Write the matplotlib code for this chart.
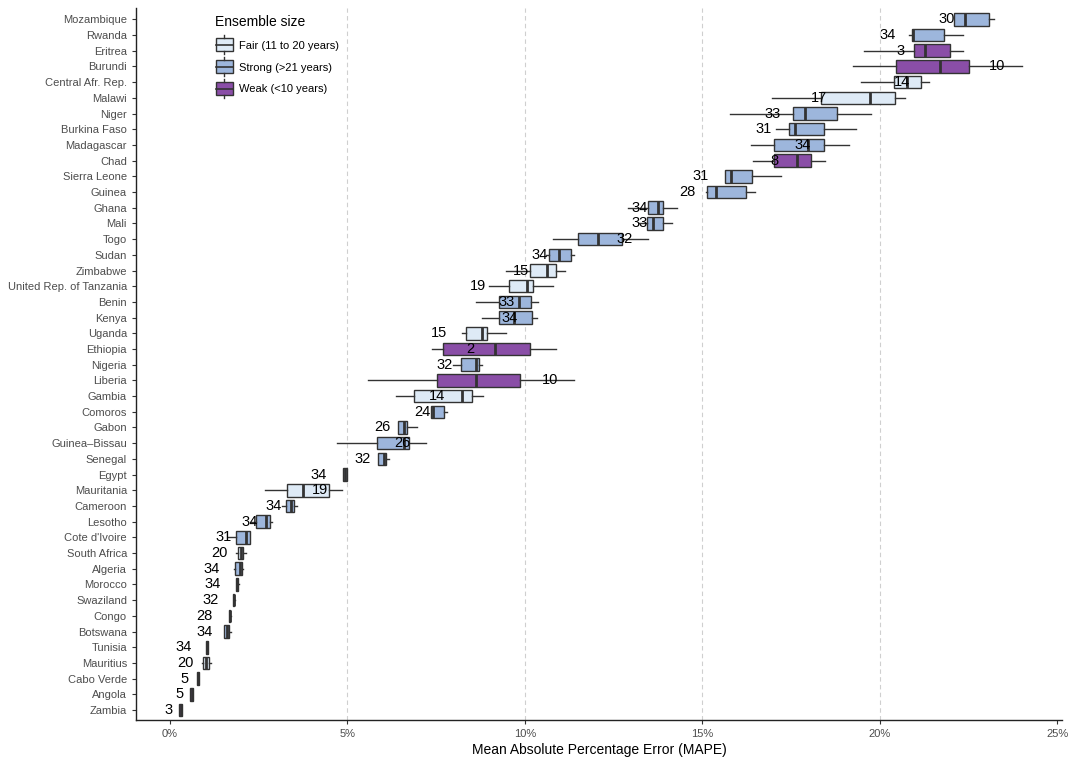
import matplotlib
matplotlib.use("Agg")
import matplotlib.pyplot as plt
from matplotlib.patches import Rectangle, Patch
from matplotlib.lines import Line2D
from matplotlib.legend_handler import HandlerBase
from matplotlib.ticker import FuncFormatter

plt.rcParams['font.family'] = ['Liberation Sans', 'DejaVu Sans']

countries = ["Mozambique", "Rwanda", "Eritrea", "Burundi", "Central Afr. Rep.", "Malawi",
             "Niger", "Burkina Faso", "Madagascar", "Chad", "Sierra Leone", "Guinea",
             "Ghana", "Mali", "Togo", "Sudan", "Zimbabwe", "United Rep. of Tanzania",
             "Benin", "Kenya", "Uganda", "Ethiopia", "Nigeria", "Liberia", "Gambia",
             "Comoros", "Gabon", "Guinea\u2013Bissau", "Senegal", "Egypt", "Mauritania",
             "Cameroon", "Lesotho", "Cote d'Ivoire", "South Africa", "Algeria", "Morocco",
             "Swaziland", "Congo", "Botswana", "Tunisia", "Mauritius", "Cabo Verde",
             "Angola", "Zambia"]

n_models = [30, 34, 3, 10, 14, 17, 33, 31, 34, 8, 31, 28, 34, 33, 32, 34, 15, 19, 33, 34,
            15, 2, 32, 10, 14, 24, 26, 26, 32, 34, 19, 34, 34, 31, 20, 34, 34, 32, 28, 34,
            34, 20, 5, 5, 3]

whisker_low = [22.09, 20.82, 19.55, 19.24, 19.47, 16.96, 15.77, 17.07, 16.37, 16.42, 15.63,
               15.10, 12.90, 13.23, 10.78, 10.60, 9.48, 9.00, 8.63, 8.78, 8.24, 7.39, 7.96,
               5.59, 6.38, 7.34, 6.41, 4.71, 5.87, 4.88, 2.68, 3.16, 2.29, 1.64, 1.86, 1.81,
               1.85, 1.76, 1.65, 1.51, 1.02, 0.90, 0.76, 0.56, 0.25]
q1 = [22.09, 20.91, 20.97, 20.46, 20.40, 18.34, 17.55, 17.44, 17.02, 17.02, 15.63, 15.12,
      13.46, 13.43, 11.51, 10.69, 10.13, 9.54, 9.28, 9.28, 8.35, 7.70, 8.21, 7.51, 6.88,
      7.34, 6.41, 5.84, 5.87, 4.88, 3.30, 3.27, 2.43, 1.86, 1.92, 1.83, 1.86, 1.78, 1.66,
      1.52, 1.02, 0.93, 0.76, 0.56, 0.25]
median = [22.40, 20.94, 21.28, 21.70, 20.77, 19.72, 17.89, 17.61, 17.98, 17.66, 15.80, 15.38,
          13.74, 13.60, 12.05, 10.95, 10.61, 10.07, 9.82, 9.68, 8.78, 9.17, 8.61, 8.61, 8.24,
          7.42, 6.58, 6.60, 6.04, 4.94, 3.75, 3.41, 2.71, 2.14, 2.00, 1.97, 1.89, 1.79, 1.68,
          1.61, 1.04, 1.02, 0.79, 0.61, 0.30]
q3 = [23.08, 21.81, 21.98, 22.52, 21.16, 20.43, 18.79, 18.42, 18.42, 18.06, 16.40, 16.22,
      13.88, 13.88, 12.73, 11.29, 10.89, 10.24, 10.16, 10.21, 8.94, 10.13, 8.72, 9.85, 8.52,
      7.73, 6.69, 6.74, 6.09, 5.00, 4.49, 3.50, 2.82, 2.26, 2.06, 2.03, 1.92, 1.81, 1.69,
      1.66, 1.07, 1.10, 0.82, 0.65, 0.34]
whisker_high = [23.22, 22.35, 22.35, 24.01, 21.39, 20.71, 19.75, 19.33, 19.13, 18.45, 17.21,
                16.48, 14.28, 14.16, 13.46, 11.37, 11.12, 10.78, 10.36, 10.33, 9.48, 10.89,
                8.78, 11.37, 8.83, 7.81, 6.97, 7.22, 6.18, 5.00, 4.85, 3.58, 2.88, 2.26, 2.14,
                2.06, 1.93, 1.82, 1.71, 1.72, 1.07, 1.16, 0.82, 0.65, 0.34]
label_x = [21.90, 20.23, 20.60, 23.31, 20.63, 18.28, 16.99, 16.73, 17.83, 17.04, 14.95, 14.59,
           13.23, 13.23, 12.81, 10.41, 9.90, 8.69, 9.48, 9.57, 7.59, 8.47, 7.73, 10.72, 7.53,
           7.11, 5.98, 6.55, 5.42, 4.18, 4.23, 2.93, 2.23, 1.50, 1.38, 1.16, 1.21, 1.13, 0.96,
           0.96, 0.37, 0.42, 0.42, 0.28, -0.03]

x_ticks = [0, 5, 10, 15, 20, 25]
grid_lines = [5, 10, 15, 20]

categories = ["Fair (11 to 20 years)", "Strong (>21 years)", "Weak (<10 years)"]
cat_colors = {"Fair (11 to 20 years)": "#deeaf6",
              "Strong (>21 years)": "#9db6dc",
              "Weak (<10 years)": "#8a4ea7"}


def category(n):
    if n <= 10:
        return "Weak (<10 years)"
    if n <= 20:
        return "Fair (11 to 20 years)"
    return "Strong (>21 years)"


edge = "#333333"
fig = plt.figure(figsize=(10.71, 7.58), dpi=100)
ax = fig.add_axes([0.127, 0.050, 0.865, 0.939])

npos = len(countries)
positions = [npos - 1 - i for i in range(npos)]

stats = []
for i, c in enumerate(countries):
    stats.append(dict(label=c, whislo=whisker_low[i], q1=q1[i], med=median[i],
                      q3=q3[i], whishi=whisker_high[i], fliers=[]))

for g in grid_lines:
    ax.axvline(g, color="#cfcfcf", lw=0.8, ls=(0, (4, 3)), zorder=0)

bp = ax.bxp(stats, positions=positions, orientation='horizontal', widths=0.8,
            patch_artist=True, showcaps=False, showfliers=False,
            boxprops=dict(edgecolor=edge, linewidth=1.0),
            whiskerprops=dict(color=edge, linewidth=1.0),
            medianprops=dict(color=edge, linewidth=2.0, solid_capstyle='butt'),
            manage_ticks=False)
for box, n in zip(bp['boxes'], n_models):
    box.set_facecolor(cat_colors[category(n)])

for i in range(npos):
    ax.text(label_x[i], positions[i], str(n_models[i]), ha='center', va='center',
            fontsize=10.5, color='black', zorder=5)

ax.set_yticks(positions)
ax.set_yticklabels(countries)
ax.set_ylim(-0.64, npos - 1 + 0.7)
ax.set_xlim(-0.96, 25.15)
ax.set_xticks(x_ticks)
ax.xaxis.set_major_formatter(FuncFormatter(lambda v, p: f"{v:.0f}%"))
ax.tick_params(axis='both', colors='#333333', labelcolor='#4d4d4d', labelsize=8,
               length=3, width=0.8)
ax.set_xlabel("Mean Absolute Percentage Error (MAPE)", fontsize=10, color='black', labelpad=3)
for s in ['top', 'right']:
    ax.spines[s].set_visible(False)
for s in ['left', 'bottom']:
    ax.spines[s].set_color('#222222')
    ax.spines[s].set_linewidth(1.0)


class HandlerBox(HandlerBase):
    def create_artists(self, legend, orig_handle, xdescent, ydescent, width, height,
                       fontsize, trans):
        w = width * 0.95
        x0 = -xdescent + (width - w) / 2
        bh = height * 1.3
        y0 = -ydescent + (height - bh) / 2
        rect = Rectangle((x0, y0), w, bh, facecolor=orig_handle.get_facecolor(),
                         edgecolor=edge, linewidth=1.0, transform=trans)
        xm = x0 + w / 2
        ym = y0 + bh / 2
        l1 = Line2D([x0, x0 + w], [ym, ym], color=edge, lw=1.2, transform=trans)
        l2 = Line2D([xm, xm], [y0 + bh, y0 + bh + height * 0.3], color=edge, lw=1.0,
                    transform=trans)
        l3 = Line2D([xm, xm], [y0, y0 - height * 0.3], color=edge, lw=1.0,
                    transform=trans)
        return [rect, l1, l2, l3]


handles = [Patch(facecolor=cat_colors[c]) for c in categories]
leg = ax.legend(handles, categories, handler_map={Patch: HandlerBox()},
                title="Ensemble size", loc='upper left', bbox_to_anchor=(0.075, 1.005),
                frameon=False, fontsize=8, title_fontsize=10, handlelength=1.6,
                handleheight=1.0, handletextpad=0.5, labelspacing=1.0)
leg._legend_box.align = "left"

fig.savefig("out.png", dpi=100)
